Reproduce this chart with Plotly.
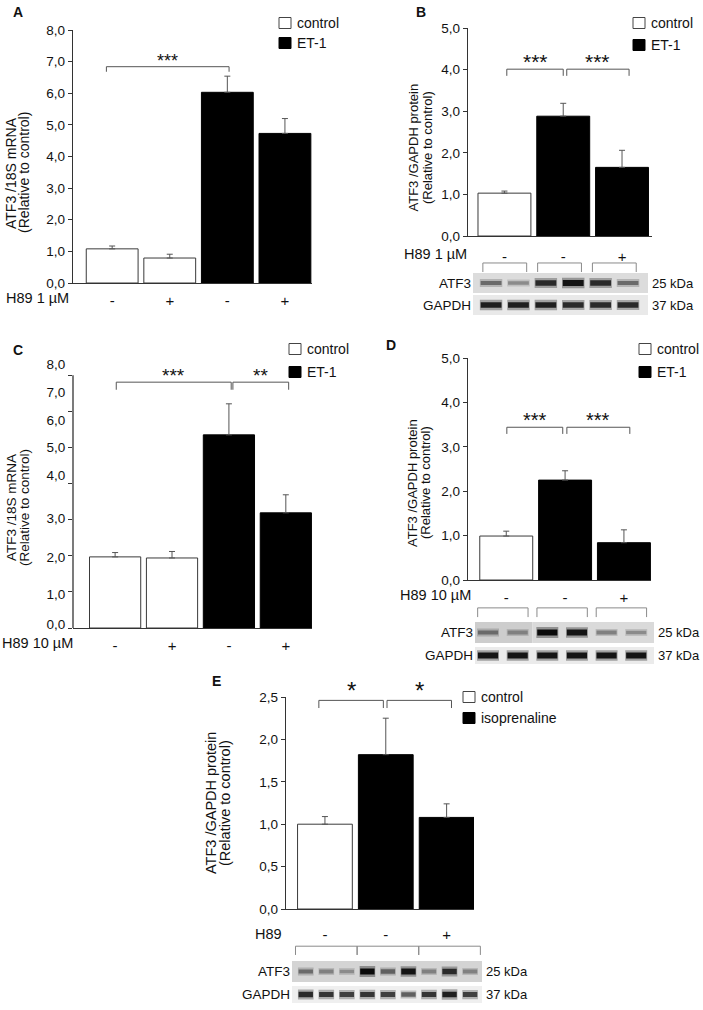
import plotly.graph_objects as go

W, H = 703, 1010
FONT = "Arial, Liberation Sans, sans-serif"
AX = "#333333"

# ---------------- data ----------------
# A: ATF3/18S mRNA, H89 1 uM
a_group = ["control", "control", "ET-1", "ET-1"]
a_h89 = ["-", "+", "-", "+"]
a_mean = [1.08, 0.79, 6.03, 4.73]
a_sem = [0.09, 0.12, 0.51, 0.47]
a_sig = [(-0.1, 2.03, 6.84, 6.68, "***")]

# B: ATF3/GAPDH protein, H89 1 uM
b_group = ["control", "ET-1", "ET-1"]
b_h89 = ["-", "-", "+"]
b_mean = [1.03, 2.88, 1.65]
b_sem = [0.05, 0.31, 0.41]
b_sig = [(0.04, 1.0, 4.01, 3.85, "***"), (1.06, 2.12, 4.01, 3.85, "***")]

# C: ATF3/18S mRNA, H89 10 uM (axis labels as printed, slightly off the ticks)
c_group = ["control", "control", "ET-1", "ET-1"]
c_h89 = ["-", "+", "-", "+"]
c_mean = [1.97, 1.94, 5.35, 3.19]
c_sem = [0.12, 0.18, 0.86, 0.50]
c_sig = [(0.02, 2.04, 6.81, 6.6, "***"), (2.07, 3.05, 6.81, 6.6, "**")]
c_label_pos = [0.11, 0.93, 1.97, 3.05, 4.22, 5.02, 5.76, 6.54, 7.31]
c_label_txt = ["0,0", "1,0", "2,0", "3,0", "4,0", "5,0", "6,0", "7,0", "8,0"]

# D: ATF3/GAPDH protein, H89 10 uM
d_group = ["control", "ET-1", "ET-1"]
d_h89 = ["-", "-", "+"]
d_mean = [0.99, 2.25, 0.84]
d_sem = [0.11, 0.21, 0.29]
d_sig = [(0.01, 0.96, 3.44, 3.29, "***"), (1.03, 2.1, 3.44, 3.29, "***")]

# E: ATF3/GAPDH protein, isoprenaline, H89
e_group = ["control", "isoprenaline", "isoprenaline"]
e_h89 = ["-", "-", "+"]
e_mean = [1.00, 1.82, 1.08]
e_sem = [0.09, 0.43, 0.16]
e_sig = [(-0.1, 0.96, 2.46, 2.37, "*"), (1.02, 2.08, 2.46, 2.37, "*")]

# western blot band intensities (0 = none, 1 = darkest)
b_atf3 = [0.55, 0.40, 0.85, 0.95, 0.85, 0.55]
b_gapdh = [0.90, 0.90, 0.90, 0.85, 0.85, 0.85]
b_lanes = [(0, 1), (2, 3), (4, 5)]
d_atf3 = [0.55, 0.45, 1.00, 0.95, 0.45, 0.40]
d_gapdh = [0.95, 0.95, 0.95, 0.95, 0.95, 0.95]
d_lanes = [(0, 1), (2, 3), (4, 5)]
e_atf3 = [0.55, 0.45, 0.40, 1.00, 0.60, 0.95, 0.45, 0.85, 0.45]
e_gapdh = [0.85, 0.80, 0.75, 0.80, 0.75, 0.60, 0.80, 0.90, 0.75]
e_lanes = [(0, 2), (3, 5), (6, 8)]


def px(x):
    return x / W


def py(y):
    return 1 - y / H


def xd(a, b):
    return [px(a), px(b)]


def yd(top, bottom):
    return [py(bottom), py(top)]


fig = go.Figure()
annotations = []
shapes = []
layout = {}


def text(t, x, y, size, xanchor="left", angle=0):
    annotations.append(dict(
        x=px(x), y=py(y), xref="paper", yref="paper", text=t,
        textangle=angle, showarrow=False, xanchor=xanchor, yanchor="middle",
        font=dict(size=size, family=FONT, color="#111"),
    ))


def bar_panel(n, group, h89, mean, sem, sig, xdom, xrng, ydom, yrng,
              ytick, star_size, leg, h89_text, h89_xy, standoff, show_ylabels=True):
    names = list(dict.fromkeys(group))
    for name in names:
        idx = [i for i, g in enumerate(group) if g == name]
        ctrl = name == "control"
        fig.add_trace(go.Bar(
            x=idx, y=[mean[i] for i in idx], name=name, width=0.9,
            marker=dict(color="white" if ctrl else "black",
                        line=dict(color="#3a3a3a" if ctrl else "black", width=1)),
            error_y=dict(type="data", symmetric=False,
                         array=[sem[i] for i in idx], arrayminus=[0] * len(idx),
                         color="#555555", thickness=1, width=3),
            xaxis=f"x{n}", yaxis=f"y{n}", showlegend=False, hoverinfo="skip",
        ))
    # legend drawn by hand: box + label, close together as in the figure
    lx, ly0, ly1 = leg
    for name, ly in zip(names, (ly0, ly1)):
        ctrl = name == "control"
        shapes.append(dict(
            type="rect", xref="paper", yref="paper",
            x0=px(lx), x1=px(lx + 12), y0=py(ly + 5.5), y1=py(ly - 5.5),
            fillcolor="white" if ctrl else "black",
            line=dict(color="#444444" if ctrl else "black", width=1),
        ))
        text(name, lx + 16, ly, 14)
    for x0, x1, top, low, txt in sig:
        fig.add_trace(go.Scatter(
            x=[x0, x0, x1, x1], y=[low, top, top, low], mode="lines",
            line=dict(color="#555555", width=1), showlegend=False,
            xaxis=f"x{n}", yaxis=f"y{n}", hoverinfo="skip",
        ))
        annotations.append(dict(
            x=(x0 + x1) / 2, y=top, xref=f"x{n}", yref=f"y{n}", text=txt,
            showarrow=False, yanchor="bottom", yshift=-6,
            font=dict(size=star_size, family=FONT, color="#111"),
        ))
    layout[f"xaxis{n}"] = dict(
        domain=xd(*xdom), range=xrng, anchor=f"y{n}", showline=True,
        linecolor=AX, linewidth=1.3, ticks="", tickvals=list(range(len(h89))),
        ticktext=h89, showgrid=False, zeroline=False, ticklabelstandoff=standoff,
        tickfont=dict(size=15, family=FONT, color="#111"),
    )
    layout[f"yaxis{n}"] = dict(
        domain=yd(*ydom), range=yrng, anchor=f"x{n}", showline=True,
        linecolor=AX, linewidth=1.3, ticks="outside", ticklen=4, tickcolor=AX,
        tickvals=ytick[0], ticktext=ytick[1], showgrid=False, zeroline=False,
        showticklabels=show_ylabels,
        tickfont=dict(size=13.5, family=FONT, color="#111"),
    )
    text(h89_text, h89_xy[0], h89_xy[1], 14.5, xanchor="right")


def ticks(vals, fmt="{:.1f}"):
    return [vals, [fmt.format(v).replace(".", ",") for v in vals]]


def ytitle(line1, line2, x1, x2, y, size):
    text(line1, x1, y, size, xanchor="center", angle=-90)
    text(line2, x2, y, size, xanchor="center", angle=-90)


def panel_label(t, x, y):
    text(f"<b>{t}</b>", x, y, 14)


def blot(n, atf3, gapdh, lanes, xdom, xrng, row_atf3, row_sp, hw, br, bgs, kda_axis, pad):
    top = row_atf3 - row_sp * 1.35
    bottom = row_atf3 + row_sp * 1.6
    for x0, x1, row, half, color in bgs:
        shapes.append(dict(
            type="rect", xref=f"x{n} domain", yref=f"y{n}", x0=x0, x1=x1,
            y0=row - half, y1=row + half, fillcolor=color, line=dict(width=0),
            layer="below",
        ))
    for row, vals in ((1, atf3), (0, gapdh)):
        for i, v in enumerate(vals):
            g = int(225 - 215 * v)
            # soft halo, then the dense core of the band
            fig.add_trace(go.Scatter(
                x=[i - hw - 0.03, i + hw + 0.03], y=[row, row], mode="lines",
                line=dict(color=f"rgba({g},{g},{g},0.35)", width=4 + 7 * v),
                showlegend=False, xaxis=f"x{n}", yaxis=f"y{n}", hoverinfo="skip",
            ))
            fig.add_trace(go.Scatter(
                x=[i - hw, i + hw], y=[row, row], mode="lines",
                line=dict(color=f"rgb({g},{g},{g})", width=2 + 4 * v),
                showlegend=False, xaxis=f"x{n}", yaxis=f"y{n}", hoverinfo="skip",
            ))
    for a, b in lanes:
        fig.add_trace(go.Scatter(
            x=[a - pad, a - pad, b + pad, b + pad], y=[br[1], br[0], br[0], br[1]],
            mode="lines", line=dict(color="#8a8a8a", width=1), showlegend=False,
            xaxis=f"x{n}", yaxis=f"y{n}", hoverinfo="skip",
        ))
    yrng = [(row_atf3 - bottom) / row_sp + 1, (row_atf3 - top) / row_sp + 1]
    layout[f"xaxis{n}"] = dict(domain=xd(*xdom), range=xrng, anchor=f"y{n}", visible=False)
    layout[f"yaxis{n}"] = dict(
        domain=yd(top, bottom), range=yrng, anchor=f"x{n}", showline=False,
        showgrid=False, zeroline=False, ticks="", tickvals=[1, 0],
        ticktext=["ATF3", "GAPDH"], ticklabelstandoff=1,
        tickfont=dict(size=13.5, family=FONT, color="#111"),
    )
    fig.add_trace(go.Scatter(x=[], y=[], xaxis=f"x{n}", yaxis=f"y{kda_axis}", showlegend=False))
    layout[f"yaxis{kda_axis}"] = dict(
        overlaying=f"y{n}", side="right", range=yrng, anchor=f"x{n}",
        showline=False, showgrid=False, zeroline=False, ticks="",
        tickvals=[1, 0], ticktext=["25 kDa", "37 kDa"], ticklabelstandoff=3,
        tickfont=dict(size=13, family=FONT, color="#111"),
    )


# ---------------- panels ----------------
bar_panel(1, a_group, a_h89, a_mean, a_sem, a_sig,
          (73, 312), [-0.68, 3.47], (30, 283), [0, 8], ticks(list(range(9))),
          18, (279, 23, 43), "H89 1 µM", (71, 298), 4)
ytitle("ATF3 /18S mRNA", "(Relative to control)", 11, 24, 173, 14)
panel_label("A", 11, 12)

bar_panel(2, b_group, b_h89, b_mean, b_sem, b_sig,
          (468, 652), [-0.62, 2.51], (28, 236), [0, 5], ticks(list(range(6))),
          21, (633, 23, 45), "H89 1 µM", (469, 254), 7)
ytitle("ATF3 /GAPDH protein", "(Relative to control)", 412.5, 427, 148, 13)
panel_label("B", 414, 12)

bar_panel(3, c_group, c_h89, c_mean, c_sem, c_sig,
          (73, 312), [-0.74, 3.46], (357, 628), [0, 271 / 36.1],
          [list(range(8)), [""] * 8], 19, (289, 349, 372), "H89 10 µM", (75, 643), 4,
          show_ylabels=False)
layout["yaxis3"]["showline"] = False
shapes.append(dict(type="line", xref="x3 domain", yref="y3", x0=0, x1=0, y0=0, y1=7,
                   line=dict(color=AX, width=1.3)))
fig.add_trace(go.Scatter(x=[], y=[], xaxis="x3", yaxis="y6", showlegend=False))
layout["yaxis6"] = dict(
    overlaying="y3", range=[0, 271 / 36.1], anchor="x3", showline=False,
    showgrid=False, zeroline=False, ticks="outside", ticklen=4,
    tickcolor="rgba(0,0,0,0)", tickvals=c_label_pos, ticktext=c_label_txt,
    tickfont=dict(size=13.5, family=FONT, color="#111"),
)
ytitle("ATF3 /18S mRNA", "(Relative to control)", 11, 24, 508, 13.5)
panel_label("C", 11, 350)

bar_panel(4, d_group, d_h89, d_mean, d_sem, d_sig,
          (468, 651), [-0.65, 2.46], (358, 580), [0, 5], ticks(list(range(6))),
          20, (639, 349, 372), "H89 10 µM", (473, 595), 4)
ytitle("ATF3 /GAPDH protein", "(Relative to control)", 412, 425, 483, 13)
panel_label("D", 384, 345)

bar_panel(5, e_group, e_h89, e_mean, e_sem, e_sig,
          (286, 474), [-0.64, 2.45], (697, 909), [0, 2.5],
          ticks([0, 0.5, 1.0, 1.5, 2.0, 2.5]), 24, (463, 697, 718), "H89", (284, 934), 12)
ytitle("ATF3 /GAPDH protein", "(Relative to control)", 211, 225, 803, 14.5)
panel_label("E", 210, 681)

blot(7, b_atf3, b_gapdh, b_lanes, (473, 648), [-0.66, 5.73], 283, 22, 0.38,
     (1.91, 1.5), [(0, 1, 1, 0.45, "#dcdcdc"), (0, 1, 0, 0.45, "#e9e9e9")], 10, 0.3)
blot(8, d_atf3, d_gapdh, d_lanes, (475, 654), [-0.44, 5.6], 632.5, 23, 0.34,
     (2.07, 1.67), [(0, 0.32, 1, 0.46, "#cdcdcd"), (0.32, 1, 1, 0.46, "#dadada"),
                    (0, 1, 0, 0.37, "#ebebeb")], 11, 0.35)
blot(9, e_atf3, e_gapdh, e_lanes, (292, 482), [-0.67, 8.58], 971.5, 23, 0.35,
     (2.1, 1.72), [(0, 1, 1, 0.46, "#d4d4d4"), (0, 1, 0, 0.37, "#efefef")], 12, 0.5)

fig.update_layout(
    width=W, height=H, margin=dict(l=0, r=0, t=0, b=0, autoexpand=False),
    paper_bgcolor="white", plot_bgcolor="white", barmode="overlay", showlegend=False,
    font=dict(family=FONT, color="#111"), annotations=annotations, shapes=shapes,
    **layout,
)

# the page body has a default 8px margin; drop it so the figure fills the window
fig.write_html("out.html", config={"displayModeBar": False},
               post_script="document.body.style.margin = '0';")
